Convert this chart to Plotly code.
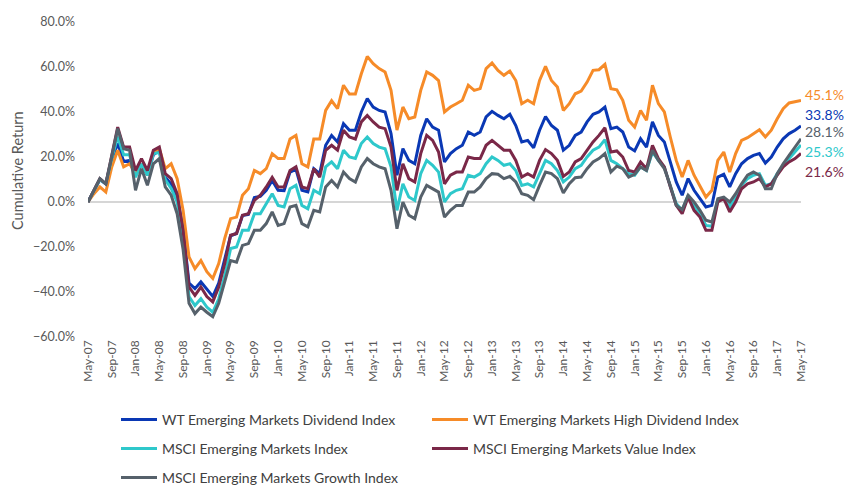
import pandas as pd
import plotly.graph_objects as go

months = pd.date_range("2007-05-01", "2017-05-01", freq="MS").strftime("%b-%y").tolist()
tick_labels = months[::4]

wt_div = [0, 5, 10, 8, 19, 26, 18, 18.5, 12, 17, 12, 21, 23, 11, 8, 2, -12, -36, -38.5, -35.5,
          -39, -42, -36, -26, -15, -14, -6, -5.5, 2, 2.5, 5.2, 9.6, 5.2, 5, 13.3, 14.5, 5.2, 4.5, 14.8, 12.6,
          25.2, 29.6, 26.7, 34.8, 31.9, 31.9, 40, 46, 42.2, 40.7, 40, 30.4, 11.9, 23.7, 18.5, 17, 29.6, 37, 33.3, 31.9,
          17.8, 21.5, 23.7, 25.2, 31.1, 29.6, 31.1, 37.8, 40.3, 38.5, 37, 39, 34, 26.7, 27.4, 24.1, 31.9, 38, 34, 31.9,
          23, 25.2, 29.6, 31.1, 35.6, 39, 40, 42.2, 32.6, 33.3, 31.1, 24.4, 22.7, 28.1, 24.4, 35.6, 29.6, 26.7, 17.8, 8.9,
          3, 10.4, 5.2, 1.5, -2.2, -1.5, 11.1, 12.3, 6.7, 12.6, 17, 19.3, 20.7, 21.5, 17.3, 20, 24.4, 28.1, 30.4, 31.9,
          33.8]
wt_high = [0, 3.7, 6.7, 4.4, 15.6, 23, 15.6, 17, 12.6, 17, 12, 22, 23.7, 14.8, 17, 10.4, -3.7, -24.4, -29.6, -26,
           -31, -34, -27.4, -16.3, -7.4, -6.7, 3, 5.9, 14, 12.6, 14.8, 21.5, 19.3, 19.3, 28, 29.6, 17, 15.6, 28, 28,
           40.7, 45, 41.5, 51.9, 48, 48, 57, 64.7, 61.5, 59.3, 57.8, 49.6, 32, 42.2, 37, 37.8, 49.6, 57.8, 56.3, 54,
           40, 42.2, 43.7, 45.2, 51.9, 49.6, 50.4, 59.3, 61.8, 58.5, 56.3, 58.2, 54, 43.7, 45.2, 43.7, 54, 60.3, 54, 51.1,
           40.7, 43.7, 48.1, 49.3, 53.3, 58.5, 58.8, 61.2, 50.4, 49.9, 45.2, 36.3, 33.3, 40.7, 36.3, 51.9, 43.7, 40, 28.9, 18.5,
           11.1, 18.5, 11.9, 6.7, 2.2, 5.2, 18.5, 22.2, 13.3, 21.5, 27.4, 28.6, 30.4, 32.1, 28.9, 31.9, 37, 41.5, 44, 44.7,
           45.1]
msci_em = [0, 5, 10, 8, 19.5, 29, 21, 21, 11, 17, 11.9, 21.5, 22, 10, 6, 0, -17, -42, -46, -43,
           -46.7, -49, -43, -33, -20.7, -20, -12.6, -12.6, -5.2, -5.2, -0.7, 3.7, -1.5, -2.2, 5.9, 7.4, -1.5, -3, 5.2, 3.7,
           15.6, 17.8, 14.8, 23, 20, 19.3, 26, 28.9, 26, 24.4, 23.7, 15.6, -3.7, 8.1, 2.2, 0.7, 12.6, 18.5, 16.3, 13.3,
           0, 3.7, 5.2, 5.9, 11.9, 11.1, 12.6, 17, 20, 18.5, 16.3, 17, 14, 7.4, 8.1, 6.7, 12.6, 18.5, 17, 14,
           8.9, 11.1, 14.8, 16.3, 20, 23, 24.4, 27.7, 18.5, 17, 14.8, 12.6, 11.9, 15.6, 14, 22.2, 18.5, 15.6, 7, -0.7,
           -3.7, 3, -1.5, -5.2, -10.4, -10.8, 0.7, 1.5, -2.2, 2.2, 7.4, 10.4, 11.9, 12.6, 7.4, 8.1, 12.6, 16.3, 19.3, 22.2,
           25.3]
msci_value = [0, 5.5, 10.4, 8.1, 20, 33.3, 24.4, 24.4, 14, 19.3, 14, 23, 24.4, 12.6, 10.4, 3.7, -12.6, -37.8, -41.5, -37.8,
              -42, -44.4, -37.8, -27.5, -14.8, -14, -5.9, -5.2, 0.7, 3, 6.7, 11, 6.7, 6.7, 14, 15.6, 6.7, 5.9, 14.8, 11,
              23, 25.2, 23, 31.9, 28.9, 28, 35.6, 38.5, 35.6, 33.3, 32.6, 24.4, 5.2, 17, 10.4, 8.9, 21.5, 29.6, 27.4, 22.2,
              8.1, 11.9, 13.3, 13.3, 20, 19.3, 19.3, 25.2, 27.4, 25.2, 23, 23, 18.5, 11.1, 12.6, 11.1, 18.5, 23.3, 21.5, 18.5,
              11.4, 13.3, 17.8, 19.3, 23, 26.7, 29.6, 33, 22.2, 22.7, 20, 14, 13.3, 17.8, 14.8, 25.2, 19.3, 15.6, 6.7, -1.5,
              -5.2, 2.2, -3.7, -6.7, -12.6, -12.6, 0, 1.5, -4.4, 0, 5.9, 8.1, 8.9, 10.4, 6.7, 8.1, 11.9, 15.6, 17.8, 19.3,
              21.6]
msci_growth = [0, 5.5, 10.4, 8.1, 20, 32.6, 23.7, 23, 5.2, 14.8, 7.4, 17, 19.3, 6.7, 3, -5.2, -21, -45, -49.6, -46.7,
               -49, -51, -45, -36, -26, -26.7, -19.3, -18.5, -12.6, -12.6, -9.6, -4.4, -10.4, -9.6, -2.2, -1.5, -9.6, -11, -3.7, -4.4,
               6.7, 9.6, 6.7, 13.3, 10.4, 8.9, 15.6, 19.3, 17, 15.6, 14.8, 5.2, -11.9, 0, -5.9, -7.4, 2.2, 7.4, 5.9, 4.4,
               -6.7, -3.7, -1.5, -1.5, 4.4, 4.4, 6.7, 10.4, 12.6, 12.3, 10.4, 11.4, 8.9, 3.7, 3, 1, 7.4, 13.3, 12.6, 10.4,
               4, 8.1, 10.8, 11.1, 14.8, 17.8, 19.3, 21.5, 13.3, 15.9, 14.8, 11.1, 12.3, 15.6, 14, 23, 18.5, 14.8, 7.4, -1.5,
               -3.4, 3, 0, -3.7, -8.1, -8.9, 1.5, 2.2, 0, 3.7, 8.1, 11.9, 13.3, 11.9, 5.9, 5.9, 12.6, 17, 20.7, 24.4,
               28.1]

FONT = "Lato"
# name, values, colour, legend id, label offset (px), legend position (left px, row centre px)
series = [
    ("WT Emerging Markets Dividend Index", wt_div, "#0a38b4", "legend", -11, (116, 420)),
    ("WT Emerging Markets High Dividend Index", wt_high, "#f68b28", "legend2", -6, (427, 420)),
    ("MSCI Emerging Markets Index", msci_em, "#2ec8cb", "legend3", 6, (116, 449)),
    ("MSCI Emerging Markets Value Index", msci_value, "#7a2848", "legend4", 18, (427, 449)),
    ("MSCI Emerging Markets Growth Index", msci_growth, "#56616b", "legend5", -7, (116, 478)),
]

fig = go.Figure()
for name, vals, color, leg, _, _ in series:
    fig.add_trace(go.Scatter(x=months, y=vals, name=name, mode="lines",
                             line=dict(color=color, width=3), legend=leg))

for name, vals, color, leg, dy, _ in series:
    fig.add_annotation(x=months[-1], y=vals[-1], xref="x", yref="y",
                       text=f"{vals[-1]:.1f}%", showarrow=False, xanchor="left",
                       xshift=2, yshift=-dy, font=dict(family=FONT, size=14, color=color))

fig.add_annotation(text="Cumulative Return", textangle=-90, showarrow=False,
                   xref="paper", yref="paper", x=(17 - 88) / 713, y=(337 - 171) / 315,
                   xanchor="center", yanchor="middle",
                   font=dict(family=FONT, size=14.5, color="#595959"))

legends = {}
for name, vals, color, leg, _, (lx, ly) in series:
    legends[leg] = dict(orientation="h", xref="container", yref="container", xanchor="left",
                        yanchor="middle", x=lx / 854, y=1 - ly / 498,
                        font=dict(family=FONT, size=14, color="#404040"),
                        itemwidth=36, bgcolor="rgba(0,0,0,0)")

fig.update_layout(
    width=854, height=498,
    margin=dict(l=88, r=53, t=22, b=161),
    paper_bgcolor="white", plot_bgcolor="white",
    font=dict(family=FONT, color="#595959"),
    showlegend=True,
    **legends,
)
fig.update_xaxes(type="category", range=[0, len(months) - 1], tickmode="array",
                 tickvals=tick_labels, ticktext=tick_labels, tickangle=-90,
                 showgrid=False, showline=False, ticks="",
                 tickfont=dict(family=FONT, size=12, color="#595959"))
fig.update_yaxes(range=[-60, 80], dtick=20, tickformat=".1f", ticksuffix="%",
                 showgrid=False, zeroline=True, zerolinecolor="#d6d6d6", zerolinewidth=1.5,
                 ticks="", ticklabelstandoff=12,
                 tickfont=dict(family=FONT, size=12.5, color="#595959"))

fig.write_html("out.html")
